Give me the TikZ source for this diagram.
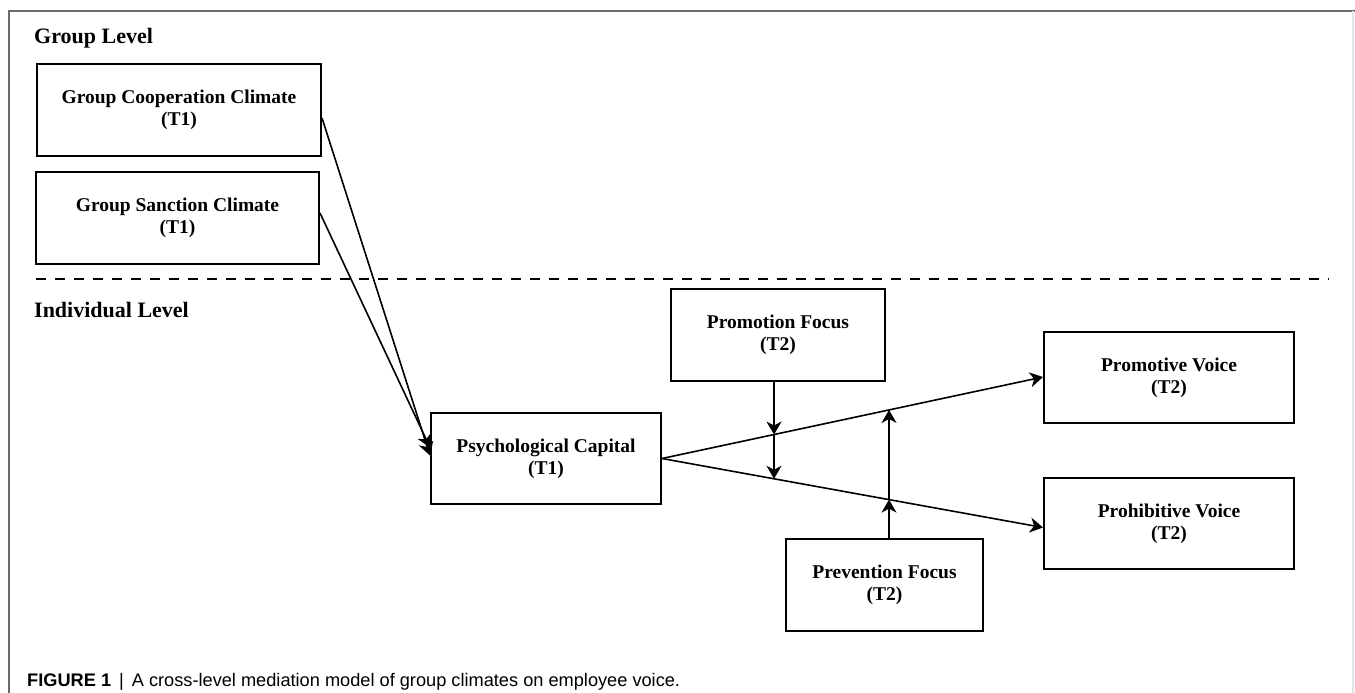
\documentclass[tikz,border=0pt]{standalone}
\usepackage{fontspec}
\setmainfont{Liberation Serif}
\newfontfamily\capfont{Liberation Sans}
\usetikzlibrary{arrows.meta,calc}
\begin{document}
\begin{tikzpicture}[x=1pt,y=-1pt,
  box/.style={draw, line width=2pt, align=center, inner sep=0pt,
    font=\fontsize{19.5}{22}\selectfont\bfseries},
  arr/.style={line width=1.6pt, -{Stealth[length=13pt,width=15pt,inset=4pt]}},
  lvl/.style={anchor=west, inner sep=0pt, font=\fontsize{22}{26}\selectfont\bfseries},
  frame/.style={line width=1.2pt, draw=black!58},
  rframe/.style={line width=1.5pt, draw=black!10}]
\useasboundingbox (0,0) rectangle (1355,693);
\fill[white] (0,0) rectangle (1355,693);
% frame
\draw[frame] (9,693) -- (9,11) -- (1355,11);
\draw[rframe] (1353,11) -- (1353,693);
% level labels
\node[lvl] (gl) at (34,38) {Group Level};
\node[lvl] (il) at (34,310) {Individual Level};
\coordinate (dl) at (36,279);
\coordinate (dr) at (1329,279);
\draw[line width=2pt, dash pattern=on 10pt off 9pt] (dl) -- (dr);
% boxes
\node[box, minimum width=284pt, minimum height=92pt] (gcc) at (179,110) {Group Cooperation Climate\\(T1)};
\node[box, minimum width=283pt, minimum height=92pt] (gsc) at (177.5,218) {Group Sanction Climate\\(T1)};
\node[box, minimum width=230pt, minimum height=91pt] (pc) at (546,458.5) {Psychological Capital\\(T1)};
\node[box, minimum width=214pt, minimum height=92pt] (pf) at (778,335) {Promotion Focus\\(T2)};
\node[box, minimum width=197pt, minimum height=92pt] (prf) at (884.5,585) {Prevention Focus\\(T2)};
\node[box, minimum width=250pt, minimum height=91pt] (pv) at (1169,377.5) {Promotive Voice\\(T2)};
\node[box, minimum width=250pt, minimum height=91pt] (hv) at (1169,523.5) {Prohibitive Voice\\(T2)};
% main paths
\coordinate (pvw) at ($(pv.west)+(0,-0.5)$);
\coordinate (hvw) at ($(hv.west)+(0,4)$);
\draw[arr] ($(gcc.east)+(0,8)$) -- ($(pc.west)+(0,-3)$);
\draw[arr] ($(gsc.east)+(0,-5)$) -- ($(pc.west)+(0,-11)$);
\draw[arr] (pc.east) -- (pvw);
\draw[arr] (pc.east) -- (hvw);
% moderators
\coordinate (pft) at ($(pf.south)+(-4,0)$);
\coordinate (pfb) at ($(pft)+(0,300)$);
\coordinate (c1) at (intersection of pc.east--pvw and pft--pfb);
\coordinate (c2) at (intersection of pc.east--hvw and pft--pfb);
\draw[arr] (pft) -- (c1);
\draw[arr] (c1) -- (c2);
\coordinate (prt) at ($(prf.north)+(4.5,0)$);
\coordinate (prb) at ($(prt)+(0,-300)$);
\coordinate (d1) at (intersection of pc.east--hvw and prt--prb);
\coordinate (d2) at (intersection of pc.east--pvw and prt--prb);
\draw[arr] (prt) -- (d1);
\draw[arr] (d1) -- (d2);
% caption
\node[anchor=base west, inner sep=0pt, font=\capfont\fontsize{18.2}{20}\selectfont] (cap) at (27,686)
  {\textbf{FIGURE 1}\hspace{8pt}|\hspace{8pt}A cross-level mediation model of group climates on employee voice.};
\end{tikzpicture}
\end{document}
